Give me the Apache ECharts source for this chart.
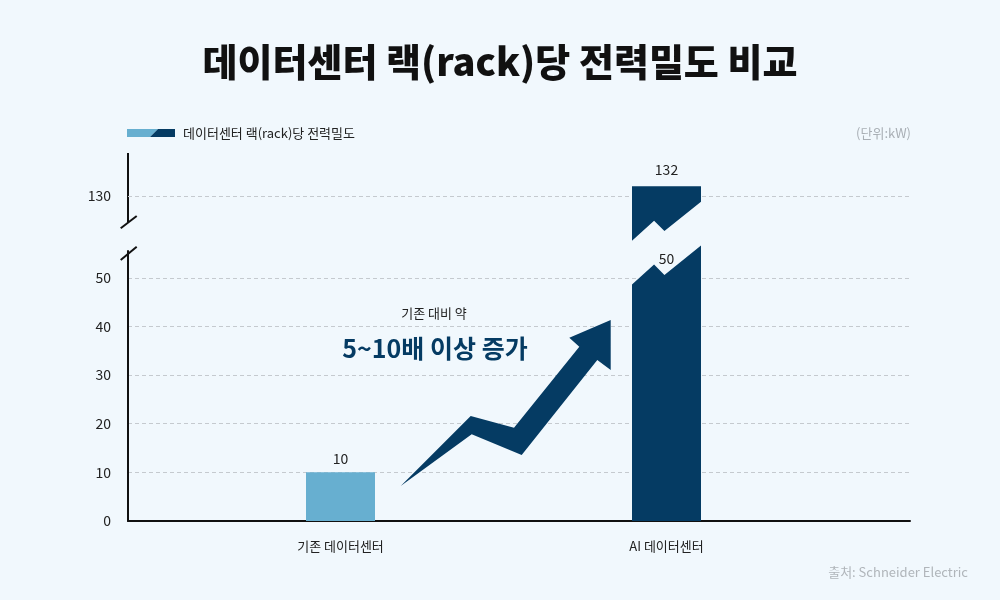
<!DOCTYPE html>
<html>
<head>
<meta charset="utf-8">
<script src="https://cdn.jsdelivr.net/npm/echarts@6/dist/echarts.min.js"></script>
<style>
  html, body { margin: 0; padding: 0; background: #f1f8fd; }
  #chart { width: 1000px; height: 600px; }
</style>
</head>
<body>
<div id="chart"></div>
<script>
// 데이터
const categories = ['기존 데이터센터', 'AI 데이터센터'];
const values = [10, 132];
const lowerTicks = [0, 10, 20, 30, 40, 50];
const upperTicks = [130];

const FONT = '"Noto Sans CJK KR", "Noto Sans", sans-serif';
const barColors = ['#67afd0', '#053b63'];
const NAVY = '#053b63';

// 축 구간 (끊어진 축: 아래 0~55.5, 위 120~140)
const LOWER = { min: 0, max: 55.5 };
const UPPER = { min: 120, max: 140 };
const LOWER_CUT = 52.6;   // 막대 절단선 중심 (아래 조각)
const UPPER_CUT = 124.8;  // 막대 절단선 중심 (위 조각)
const BAR_W = 69;
// 절단선 모양: 막대 폭 비율 / 세로 오프셋(px)
const cutX = [0, 0.32, 0.47, 1];
const cutDy = [19.5, -0.5, 9.8, -19.5];

const lowerGrid = { top: 251, bottom: 79 };
const upperGrid = { top: 147.35, height: 97.3 };

const chart = echarts.init(document.getElementById('chart'));

const splitLine = (minLine) => ({
  show: true, showMinLine: minLine, showMaxLine: false,
  lineStyle: { color: '#c5cacf', type: [4, 3], width: 1 },
});

function cutPoints(x0, c, reverse) {
  const pts = cutX.map((f, k) => [x0 + f * BAR_W, c + cutDy[k]]);
  return reverse ? pts.reverse() : pts;
}

function labelEl(x, y, text) {
  return {
    type: 'text', x, y,
    style: { text, fill: '#222', font: '14px ' + FONT, align: 'center', verticalAlign: 'middle' },
  };
}

chart.setOption({
  backgroundColor: '#f1f8fd',
  animation: false,
  grid: [
    { left: 128, right: 90, top: lowerGrid.top, bottom: lowerGrid.bottom, outerBoundsMode: 'none' },
    { left: 128, right: 90, top: upperGrid.top, height: upperGrid.height, outerBoundsMode: 'none' },
    { left: 177.5, right: 170.5, top: lowerGrid.top, bottom: lowerGrid.bottom, outerBoundsMode: 'none' },
    { left: 177.5, right: 170.5, top: upperGrid.top, height: upperGrid.height, outerBoundsMode: 'none' },
  ],
  xAxis: [
    { gridIndex: 0, type: 'value', min: 0, max: 1,
      axisLine: { show: true, lineStyle: { color: '#111', width: 2 } },
      axisTick: { show: false }, axisLabel: { show: false }, splitLine: { show: false } },
    { gridIndex: 1, type: 'value', min: 0, max: 1, show: false },
    { gridIndex: 2, type: 'category', data: categories,
      axisLine: { show: false }, axisTick: { show: false },
      axisLabel: { color: '#222', fontSize: 13, fontFamily: FONT, margin: 19 } },
    { gridIndex: 3, type: 'category', data: categories, show: false },
  ],
  yAxis: [
    { gridIndex: 0, type: 'value', min: LOWER.min, max: LOWER.max, interval: 10,
      axisLine: { show: true, lineStyle: { color: '#111', width: 2 } },
      axisTick: { show: false },
      axisLabel: { color: '#222', fontSize: 14, fontFamily: FONT, margin: 17,
        showMaxLabel: false,
        formatter: v => lowerTicks.includes(v) ? String(v) : '' },
      splitLine: splitLine(false) },
    { gridIndex: 1, type: 'value', min: UPPER.min, max: UPPER.max, interval: 10,
      axisLine: { show: false }, axisTick: { show: false },
      axisLabel: { color: '#222', fontSize: 14, fontFamily: FONT, margin: 17,
        showMinLabel: false, showMaxLabel: false,
        formatter: v => upperTicks.includes(v) ? String(v) : '' },
      splitLine: splitLine(false) },
    { gridIndex: 2, type: 'value', min: LOWER.min, max: LOWER.max, show: false },
    { gridIndex: 3, type: 'value', min: UPPER.min, max: UPPER.max, show: false },
  ],
  series: [
    {
      // 아래 구간 막대
      type: 'custom', xAxisIndex: 2, yAxisIndex: 2, clip: false,
      data: values.map((v, i) => [i, v]),
      renderItem: (params, api) => {
        const i = api.value(0), v = api.value(1);
        const base = api.coord([i, 0]);
        const x0 = base[0] - BAR_W / 2;
        const color = barColors[i];
        if (v <= LOWER.max) {
          const top = api.coord([i, v])[1];
          return { type: 'group', children: [
            { type: 'rect', shape: { x: x0, y: top, width: BAR_W, height: base[1] - top }, style: { fill: color } },
            labelEl(base[0], top - 14, String(v)),
          ] };
        }
        const c = api.coord([i, LOWER_CUT])[1];
        const topTick = lowerTicks[lowerTicks.length - 1];
        const pts = [[x0, base[1]], ...cutPoints(x0, c, false), [x0 + BAR_W, base[1]]];
        return { type: 'group', children: [
          { type: 'polygon', shape: { points: pts }, style: { fill: color } },
          labelEl(base[0], api.coord([i, topTick])[1] - 19, String(topTick)),
        ] };
      },
    },
    {
      // 위 구간 막대
      type: 'custom', xAxisIndex: 3, yAxisIndex: 3, clip: false,
      data: values.map((v, i) => [i, v]),
      renderItem: (params, api) => {
        const i = api.value(0), v = api.value(1);
        if (v <= LOWER.max) return { type: 'group', children: [] };
        const topPt = api.coord([i, v]);
        const x0 = topPt[0] - BAR_W / 2;
        const c = api.coord([i, UPPER_CUT])[1];
        const pts = [[x0, topPt[1]], [x0 + BAR_W, topPt[1]], ...cutPoints(x0, c, true)];
        return { type: 'group', children: [
          { type: 'polygon', shape: { points: pts }, style: { fill: barColors[i] } },
          labelEl(topPt[0], topPt[1] - 17, String(v)),
        ] };
      },
    },
  ],
  graphic: [
    // 제목
    { type: 'text', x: 500, y: 62,
      style: { text: '데이터센터 랙(rack)당 전력밀도 비교', fill: '#111',
        font: '900 38px ' + FONT, align: 'center', verticalAlign: 'middle' } },
    // 범례
    { type: 'polygon', shape: { points: [[127, 129], [158, 129], [150, 137], [127, 137]] }, style: { fill: barColors[0] } },
    { type: 'polygon', shape: { points: [[158, 129], [175, 129], [175, 137], [150, 137]] }, style: { fill: barColors[1] } },
    { type: 'text', x: 183, y: 133,
      style: { text: '데이터센터 랙(rack)당 전력밀도', fill: '#222', font: '13px ' + FONT, verticalAlign: 'middle' } },
    { type: 'text', x: 911, y: 133,
      style: { text: '(단위:kW)', fill: '#a9afb5', font: '13px ' + FONT, align: 'right', verticalAlign: 'middle' } },
    // 위쪽 y축 선과 끊김 표시
    { type: 'line', shape: { x1: 128, y1: 153, x2: 128, y2: 222 }, style: { stroke: '#111', lineWidth: 2 } },
    { type: 'line', shape: { x1: 120.7, y1: 228.3, x2: 136.7, y2: 216 }, style: { stroke: '#111', lineWidth: 2 } },
    { type: 'line', shape: { x1: 120.7, y1: 260, x2: 136.7, y2: 246.7 }, style: { stroke: '#111', lineWidth: 2 } },
    // 증가 화살표 (격자선 위에 그림)
    { type: 'polygon', z: 100, shape: { points: [
        [400.7, 486], [470.7, 416], [514, 427.7], [579.3, 346.7], [569.3, 337.7],
        [610.7, 320], [610.7, 370], [597.3, 360], [521.7, 455], [471.7, 434.3]] },
      style: { fill: NAVY } },
    { type: 'text', x: 434, y: 313, z: 100,
      style: { text: '기존 대비 약', fill: '#222', font: '13px ' + FONT, align: 'center', verticalAlign: 'middle' } },
    { type: 'text', x: 435, y: 348, z: 100,
      style: { text: '5~10배 이상 증가', fill: NAVY, font: 'bold 25px ' + FONT, align: 'center', verticalAlign: 'middle' } },
    // 출처
    { type: 'text', x: 968, y: 572,
      style: { text: '출처: Schneider Electric', fill: '#b0b5ba', font: '13px ' + FONT, align: 'right', verticalAlign: 'middle' } },
  ],
});

window.addEventListener('resize', () => chart.resize());
</script>
</body>
</html>
